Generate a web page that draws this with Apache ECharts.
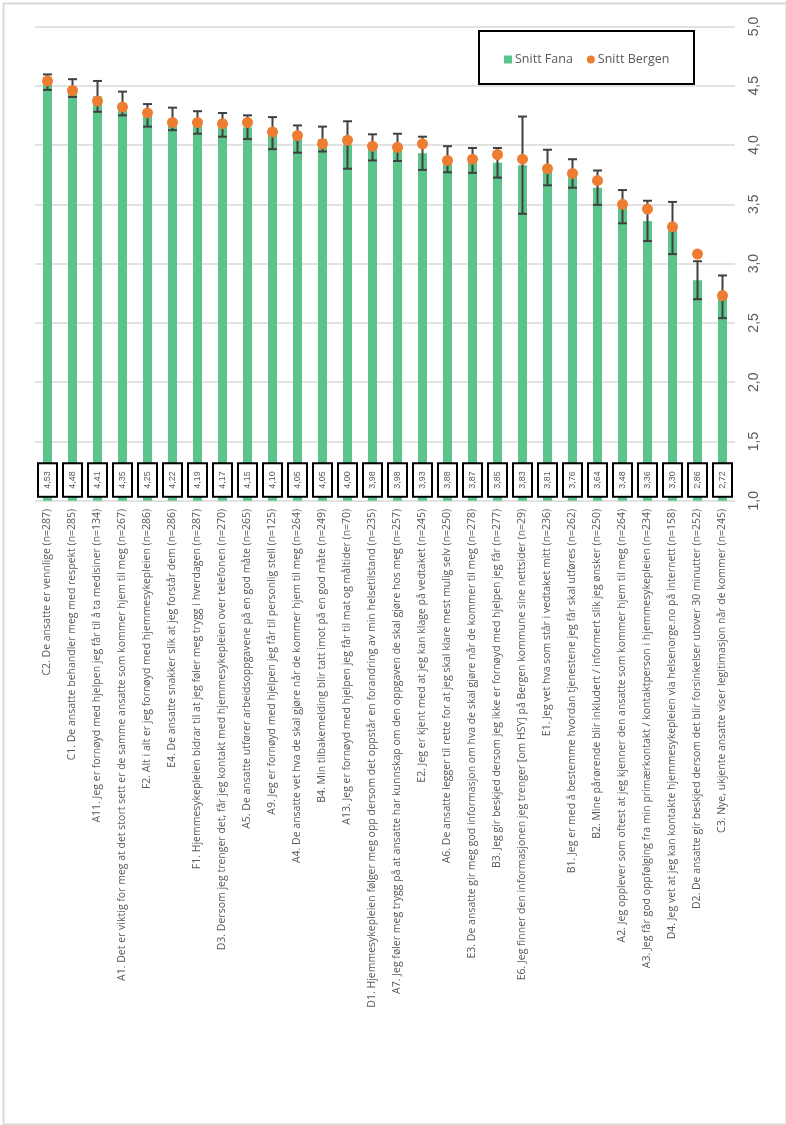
<!DOCTYPE html>
<html>
<head>
<meta charset="utf-8">
<script src="https://cdn.jsdelivr.net/npm/echarts@6/dist/echarts.min.js"></script>
<style>
html,body{margin:0;padding:0;background:#fff;}
#chart{width:786px;height:1125px;}
</style>
</head>
<body>
<div id="chart"></div>
<script>
const categories = [
  "C2. De ansatte er vennlige (n=287)",
  "C1. De ansatte behandler meg med respekt (n=285)",
  "A11. Jeg er fornøyd med hjelpen jeg får til å ta medisiner (n=134)",
  "A1. Det er viktig for meg at det stort sett er de samme ansatte som kommer hjem til meg (n=267)",
  "F2. Alt i alt er jeg fornøyd med hjemmesykepleien (n=286)",
  "E4. De ansatte snakker slik at jeg forstår dem (n=286)",
  "F1. Hjemmesykepleien bidrar til at jeg føler meg trygg i hverdagen (n=287)",
  "D3. Dersom jeg trenger det, får jeg kontakt med hjemmesykepleien over telefonen (n=270)",
  "A5. De ansatte utfører arbeidsoppgavene på en god måte (n=265)",
  "A9. Jeg er fornøyd med hjelpen jeg får til personlig stell (n=125)",
  "A4. De ansatte vet hva de skal gjøre når de kommer hjem til meg (n=264)",
  "B4. Min tilbakemelding blir tatt imot på en god måte (n=249)",
  "A13. Jeg er fornøyd med hjelpen jeg får til mat og måltider (n=70)",
  "D1. Hjemmesykepleien følger meg opp dersom det oppstår en forandring av min helsetilstand (n=235)",
  "A7. Jeg føler meg trygg på at ansatte har kunnskap om den oppgaven de skal gjøre hos meg (n=257)",
  "E2. Jeg er kjent med at jeg kan klage på vedtaket (n=245)",
  "A6. De ansatte legger til rette for at jeg skal klare mest mulig selv (n=250)",
  "E3. De ansatte gir meg god informasjon om hva de skal gjøre når de kommer til meg (n=278)",
  "B3. Jeg gir beskjed dersom jeg ikke er fornøyd med hjelpen jeg får (n=277)",
  "E6. Jeg finner den informasjonen jeg trenger [om HSY] på Bergen kommune sine nettsider (n=29)",
  "E1. Jeg vet hva som står i vedtaket mitt (n=236)",
  "B1. Jeg er med å bestemme hvordan tjenestene jeg får skal utføres (n=262)",
  "B2. Mine pårørende blir inkludert / informert slik jeg ønsker (n=250)",
  "A2. Jeg opplever som oftest at jeg kjenner den ansatte som kommer hjem til meg (n=264)",
  "A3. Jeg får god oppfølging fra min primærkontakt / kontaktperson i hjemmesykepleien (n=234)",
  "D4. Jeg vet at jeg kan kontakte hjemmesykepleien via helsenorge.no på internett (n=158)",
  "D2. De ansatte gir beskjed dersom det blir forsinkelser utover 30 minutter (n=252)",
  "C3. Nye, ukjente ansatte viser legitimasjon når de kommer (n=245)"
];
const snittFana = [4.53,4.48,4.41,4.35,4.25,4.22,4.19,4.17,4.15,4.10,4.05,4.05,4.00,3.98,3.98,3.93,3.88,3.87,3.85,3.83,3.81,3.76,3.64,3.48,3.36,3.30,2.86,2.72];
const snittBergen = [4.54,4.46,4.37,4.32,4.27,4.19,4.19,4.18,4.19,4.11,4.08,4.01,4.04,3.99,3.98,4.01,3.87,3.88,3.92,3.88,3.80,3.76,3.70,3.50,3.46,3.31,3.08,2.73];
const fanaError = [0.065,0.075,0.13,0.10,0.095,0.095,0.095,0.10,0.10,0.135,0.115,0.105,0.20,0.11,0.115,0.14,0.11,0.105,0.125,0.41,0.15,0.12,0.145,0.14,0.17,0.22,0.16,0.18];
const valueTicks = {min: 1, max: 5, interval: 0.5};

const comma = (v, d) => v.toFixed(d).replace('.', ',');
const FONT = 'Open Sans';

const chart = echarts.init(document.getElementById('chart'), null, {renderer: 'canvas'});
chart.setOption({
  animation: false,
  backgroundColor: '#ffffff',
  textStyle: {fontFamily: FONT},
  grid: {left: 35, right: 51, top: 26.4, bottom: 624.2, containLabel: false},
  graphic: [
    {type: 'rect', left: 1, top: 1, z: -10, shape: {width: 783, height: 1121},
     style: {fill: 'none', stroke: '#d9d9d9', lineWidth: 2}},
    {type: 'rect', left: 478, top: 30, z: 10, shape: {width: 215, height: 53},
     style: {fill: '#ffffff', stroke: '#000000', lineWidth: 2}}
  ],
  legend: {
    left: 499, top: 48, z: 20,
    itemWidth: 8, itemHeight: 8, itemGap: 14,
    textStyle: {fontFamily: 'Open Sans', fontSize: 12.5, color: '#595959', padding: [0, 0, 0, -2]},
    data: [
      {name: 'Snitt Fana', icon: 'rect'},
      {name: 'Snitt Bergen', icon: 'circle'}
    ]
  },
  xAxis: {
    type: 'category',
    data: categories,
    axisLine: {show: false},
    axisTick: {show: false},
    axisLabel: {interval: 0, rotate: 90, margin: 8, fontSize: 10.5, color: '#595959', fontFamily: FONT}
  },
  yAxis: {
    type: 'value',
    position: 'right',
    min: valueTicks.min, max: valueTicks.max, interval: valueTicks.interval,
    axisLine: {show: false},
    axisTick: {show: false},
    splitLine: {lineStyle: {color: '#d9d9d9', width: 1.5}},
    axisLabel: {rotate: 90, margin: 12, fontSize: 14, color: '#595959', fontFamily: 'Liberation Sans',
      formatter: v => comma(v, 1)}
  },
  series: [
    {
      name: 'Snitt Fana',
      type: 'bar',
      data: snittFana,
      barWidth: 9,
      itemStyle: {color: '#5bc48a'},
      z: 2,
      label: {
        show: true, position: 'insideBottom', distance: 5, rotate: 90,
        align: 'left', verticalAlign: 'middle',
        formatter: p => comma(p.value, 2),
        fontSize: 9, color: '#595959', fontFamily: 'Liberation Sans',
        backgroundColor: '#ffffff', borderColor: '#000000', borderWidth: 2,
        padding: [4, 7, 4, 7]
      }
    },
    {
      name: 'Fana CI',
      type: 'custom',
      z: 3,
      data: snittFana.map((v, i) => [i, v, fanaError[i]]),
      renderItem: (params, api) => {
        const x = api.value(0), y = api.value(1), e = api.value(2);
        const hi = api.coord([x, y + e]);
        const lo = api.coord([x, y - e]);
        const hw = 4.5;
        const st = {stroke: '#404040', lineWidth: 2};
        return {type: 'group', children: [
          {type: 'line', shape: {x1: hi[0], y1: hi[1], x2: lo[0], y2: lo[1]}, style: st},
          {type: 'line', shape: {x1: hi[0]-hw, y1: hi[1], x2: hi[0]+hw, y2: hi[1]}, style: st},
          {type: 'line', shape: {x1: lo[0]-hw, y1: lo[1], x2: lo[0]+hw, y2: lo[1]}, style: st}
        ]};
      }
    },
    {
      name: 'Snitt Bergen',
      type: 'scatter',
      data: snittBergen,
      symbol: 'circle',
      symbolSize: 11,
      itemStyle: {color: '#ed7d31', opacity: 1},
      z: 4
    }
  ]
});
</script>
</body>
</html>
